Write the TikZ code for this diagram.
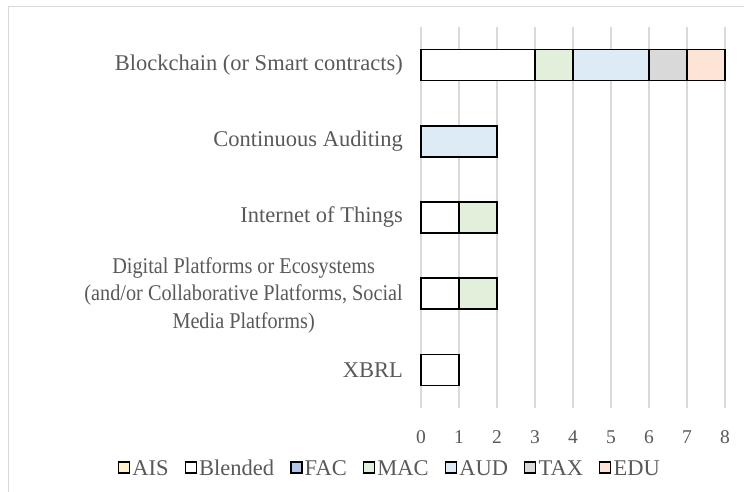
\documentclass[tikz,border=0pt]{standalone}
\usepackage{fontspec}
\setmainfont{Liberation Serif}
\usetikzlibrary{positioning}

\definecolor{txtgray}{HTML}{595959}
\definecolor{gridgray}{HTML}{D9D9D9}
\definecolor{cAIS}{HTML}{FFF2CC}
\definecolor{cBlended}{HTML}{FFFFFF}
\definecolor{cFAC}{HTML}{B4C6E7}
\definecolor{cMAC}{HTML}{E2EFDA}
\definecolor{cAUD}{HTML}{DDEBF7}
\definecolor{cTAX}{HTML}{D9D9D9}
\definecolor{cEDU}{HTML}{FCE4D6}

\tikzset{
  gridline/.style={draw=gridgray, line width=1.5pt},
  barseg/.style={draw=black, line width=1.5pt},
  catlabel/.style={anchor=east, inner sep=0pt, text=txtgray, align=center,
    font=\fontsize{22.5}{27.5}\selectfont},
  ticklabel/.style={inner sep=0pt, text=txtgray, font=\fontsize{19.5}{22}\selectfont},
  legsq/.style={draw=black, line width=1.2pt, minimum size=11pt, inner sep=0pt},
  legtxt/.style={inner sep=0pt, text=txtgray, text height=15pt, text depth=0pt,
    font=\fontsize{22.5}{26}\selectfont},
}

% one bar segment: \seg{row centre}{from}{to}{colour}
\newcommand{\seg}[4]{%
  \path[barseg, fill=#4] ({421+38*#2},{#1-15.5}) rectangle ({421+38*#3},{#1+15.5});}

\begin{document}
\begin{tikzpicture}[x=1pt, y=-1pt]
\useasboundingbox (0,0) rectangle (744,492);

% outer chart frame
\draw[draw=gridgray, line width=1.5pt] (8.5,500) -- (8.5,6.5) -- (760,6.5);

% vertical grid and value axis labels
\foreach \k in {0,...,8} {
  \draw[gridline] ({421+38*\k},27) -- ({421+38*\k},408);
  \node[ticklabel] (tick\k) at ({421+38*\k},437.5) {\k};
}

% category labels
\node[catlabel] (labBC)  at (403,65.1)  {Blockchain (or Smart contracts)};
\node[catlabel] (labCA)  at (403,141.3) {Continuous Auditing};
\node[catlabel] (labIoT) at (403,217.5) {Internet of Things};
\node[catlabel, font=\fontsize{22.5}{27.5}\selectfont\addfontfeature{FakeStretch=0.9}]
  (labDP) at (403,295)
  {Digital Platforms or Ecosystems\\(and/or Collaborative Platforms, Social\\Media Platforms)};
\node[catlabel] (labX)   at (403,369.9) {XBRL};

% stacked bars
\seg{65.1}{0}{3}{cBlended}
\seg{65.1}{3}{4}{cMAC}
\seg{65.1}{4}{6}{cAUD}
\seg{65.1}{6}{7}{cTAX}
\seg{65.1}{7}{8}{cEDU}
\seg{141.3}{0}{2}{cAUD}
\seg{217.5}{0}{1}{cBlended}
\seg{217.5}{1}{2}{cMAC}
\seg{293.7}{0}{1}{cBlended}
\seg{293.7}{1}{2}{cMAC}
\seg{369.9}{0}{1}{cBlended}

% legend, laid out outwards from the AUD entry
\node[legsq, fill=cAUD] (sqAUD) at (451,467.5) {};
\node[legtxt, right=2pt of sqAUD] (tAUD) {AUD};
\node[legsq, fill=cTAX, right=16pt of tAUD] (sqTAX) {};
\node[legtxt, right=2pt of sqTAX] (tTAX) {TAX};
\node[legsq, fill=cEDU, right=16pt of tTAX] (sqEDU) {};
\node[legtxt, right=2pt of sqEDU] (tEDU) {EDU};
\node[legtxt, left=16pt of sqAUD] (tMAC) {MAC};
\node[legsq, fill=cMAC, left=2pt of tMAC] (sqMAC) {};
\node[legtxt, left=16pt of sqMAC] (tFAC) {FAC};
\node[legsq, fill=cFAC, left=2pt of tFAC] (sqFAC) {};
\node[legtxt, left=16pt of sqFAC] (tBl) {Blended};
\node[legsq, fill=cBlended, left=2pt of tBl] (sqBl) {};
\node[legtxt, left=16pt of sqBl] (tAIS) {AIS};
\node[legsq, fill=cAIS, left=2pt of tAIS] (sqAIS) {};
\end{tikzpicture}
\end{document}
